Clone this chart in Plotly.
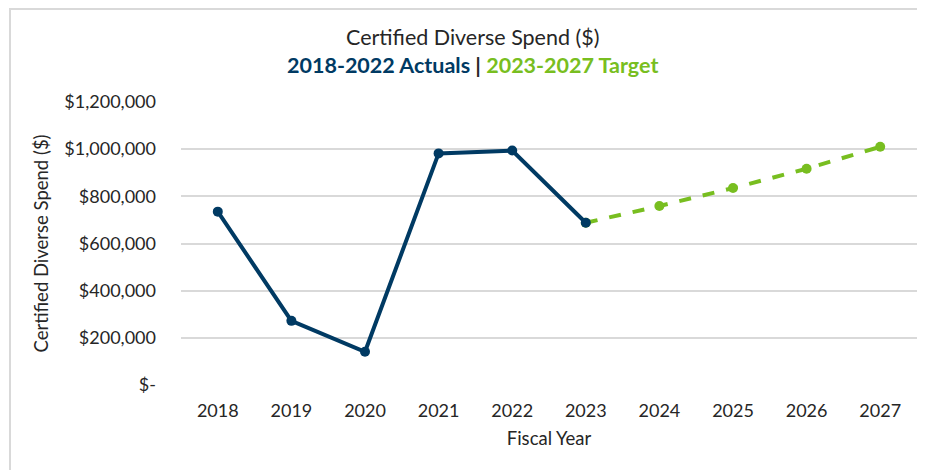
import plotly.graph_objects as go

years = ["2018", "2019", "2020", "2021", "2022", "2023", "2024", "2025", "2026", "2027"]
actual_years = ["2018", "2019", "2020", "2021", "2022", "2023"]
actual_values = [735000, 272000, 141000, 982000, 994000, 688000]
target_years = ["2023", "2024", "2025", "2026", "2027"]
target_values = [688000, 759000, 835000, 917000, 1010000]
y_tickvals = [0, 200000, 400000, 600000, 800000, 1000000, 1200000]
y_ticktext = ["$-", "$200,000", "$400,000", "$600,000", "$800,000", "$1,000,000", "$1,200,000"]

NAVY = "#003A63"
GREEN = "#78BE20"
TEXT = "#262626"
FONT = "Lato, Carlito, sans-serif"

# the page has an 8px body margin; figure fills the rest of the 925x470 window
OFF = 8
W, H = 925 - OFF, 470 - OFF
L, R, T, B = 181 - OFF, 8, 102 - OFF, 85
pw, ph = W - L - R, H - T - B

def px(x):  # page pixel -> paper x
    return (x - OFF - L) / pw

def py(y):  # page pixel -> paper y
    return (H - B - (y - OFF)) / ph

fig = go.Figure()
fig.add_trace(go.Scatter(
    x=target_years, y=target_values, mode="lines+markers",
    line=dict(color=GREEN, width=4, dash="dash"),
    marker=dict(color=GREEN, size=10), showlegend=False))
fig.add_trace(go.Scatter(
    x=actual_years, y=actual_values, mode="lines+markers",
    line=dict(color=NAVY, width=4),
    marker=dict(color=NAVY, size=10), showlegend=False))

fig.update_layout(
    width=W, height=H,
    margin=dict(l=L, r=R, t=T, b=B),
    paper_bgcolor="white", plot_bgcolor="white",
    font=dict(family=FONT, color=TEXT, size=18),
    xaxis=dict(
        type="category", categoryorder="array", categoryarray=years,
        range=[-0.5, len(years) - 0.5],
        showgrid=False, showline=False, zeroline=False,
        tickfont=dict(size=18, color=TEXT),
        ticklabelstandoff=13,
        title=dict(text="Fiscal Year", font=dict(size=18.5, color=TEXT), standoff=12),
    ),
    yaxis=dict(
        range=[0, 1200000], tickvals=y_tickvals, ticktext=y_ticktext,
        showgrid=True, gridcolor="#D9D9D9", gridwidth=1.5,
        zeroline=False, showline=False,
        tickfont=dict(size=18, color=TEXT),
        ticklabelstandoff=24,
        title=dict(text="Certified Diverse Spend ($)", font=dict(size=18.5, color=TEXT), standoff=10),
    ),
    annotations=[
        dict(text="Certified Diverse Spend ($)", xref="paper", yref="paper",
             x=px(472), y=py(37), showarrow=False, xanchor="center", yanchor="middle",
             font=dict(size=21.5, color=TEXT, family=FONT)),
        dict(text="<b><span style='color:%s'>2018-2022 Actuals</span> | <span style='color:%s'>2023-2027 Target</span></b>" % (NAVY, GREEN),
             xref="paper", yref="paper",
             x=px(472), y=py(65), showarrow=False, xanchor="center", yanchor="middle",
             font=dict(size=21.5, color=TEXT, family=FONT)),
    ],
    shapes=[
        dict(type="line", xref="paper", yref="paper", x0=px(9), x1=px(940), y0=py(9), y1=py(9),
             line=dict(color="#D9D9D9", width=2)),
        dict(type="line", xref="paper", yref="paper", x0=px(10), x1=px(10), y0=py(8), y1=py(490),
             line=dict(color="#D9D9D9", width=2)),
    ],
)

fig.write_html("out.html")
